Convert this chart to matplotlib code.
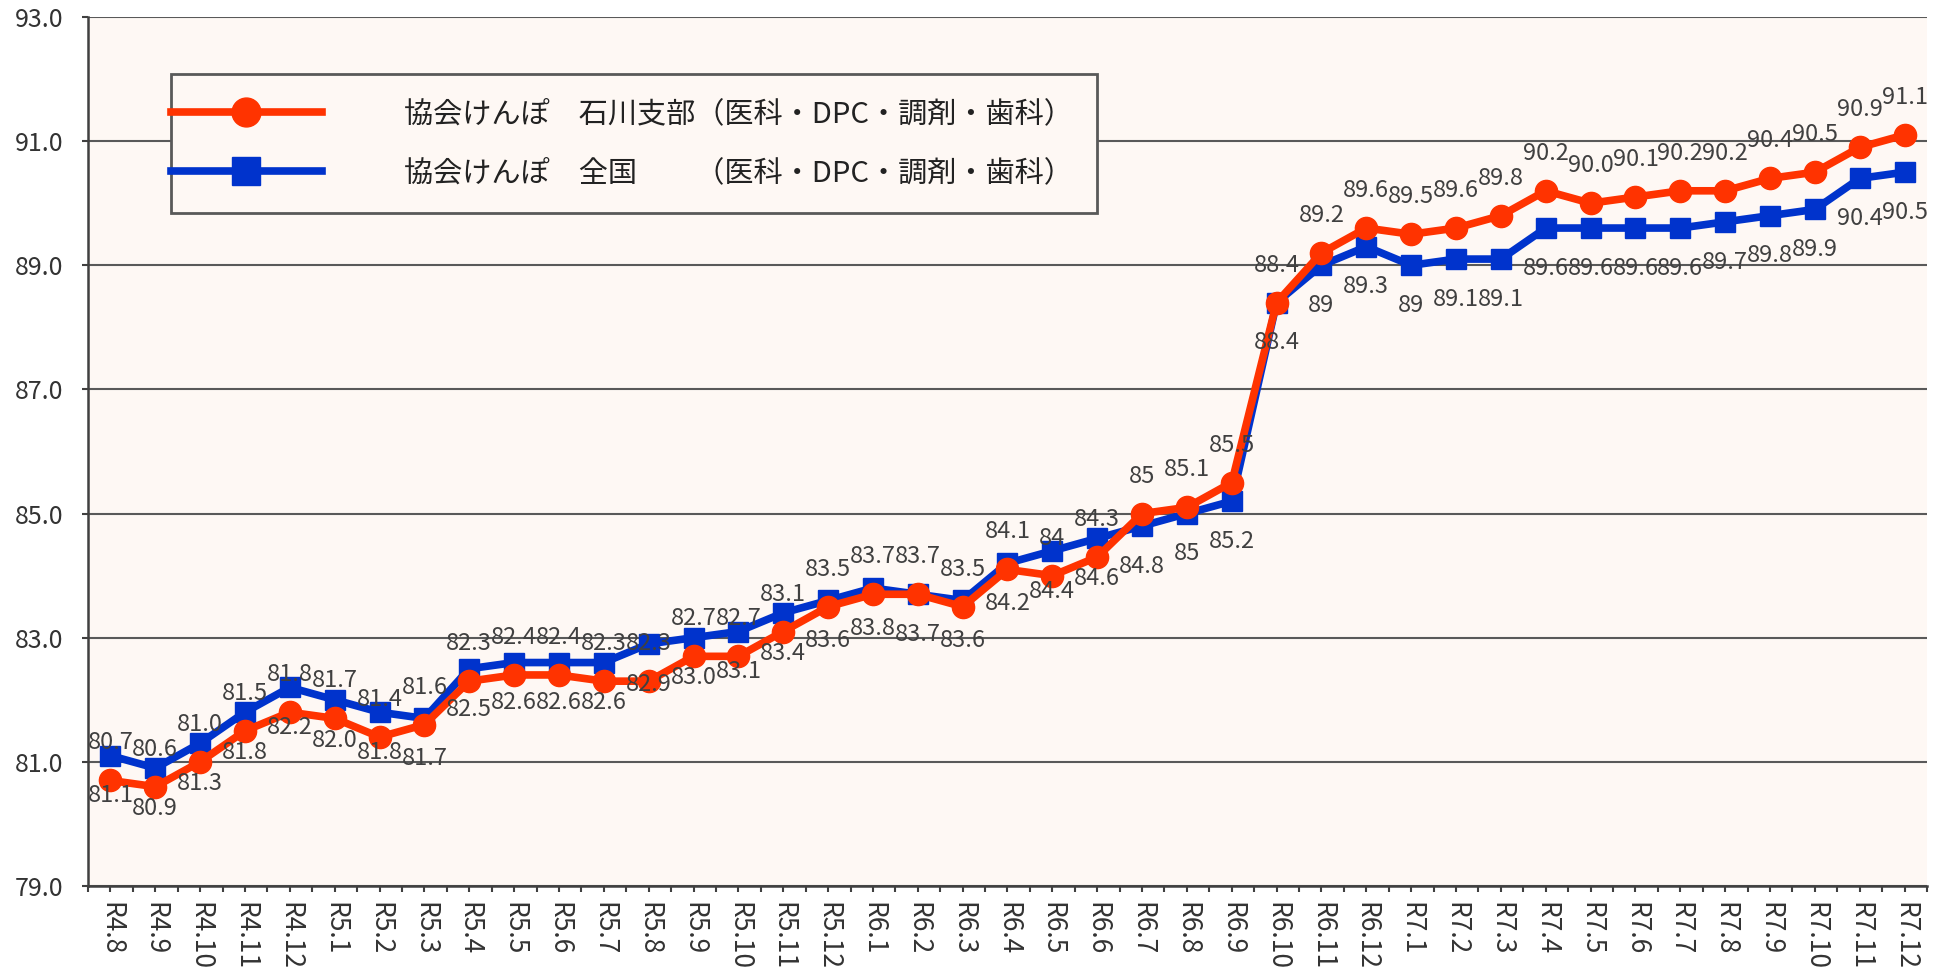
import numpy as np
from matplotlib import pyplot as plt
from matplotlib.legend_handler import HandlerLine2D

plt.rcParams['font.family'] = ['Noto Sans CJK JP', 'DejaVu Sans']

months = ['R4.8', 'R4.9', 'R4.10', 'R4.11', 'R4.12',
          'R5.1', 'R5.2', 'R5.3', 'R5.4', 'R5.5', 'R5.6', 'R5.7', 'R5.8', 'R5.9', 'R5.10', 'R5.11', 'R5.12',
          'R6.1', 'R6.2', 'R6.3', 'R6.4', 'R6.5', 'R6.6', 'R6.7', 'R6.8', 'R6.9', 'R6.10', 'R6.11', 'R6.12',
          'R7.1', 'R7.2', 'R7.3', 'R7.4', 'R7.5', 'R7.6', 'R7.7', 'R7.8', 'R7.9', 'R7.10', 'R7.11', 'R7.12']

# values as printed on the chart (some without decimals)
ishikawa_text = ['80.7', '80.6', '81.0', '81.5', '81.8',
                 '81.7', '81.4', '81.6', '82.3', '82.4', '82.4', '82.3', '82.3', '82.7', '82.7', '83.1', '83.5',
                 '83.7', '83.7', '83.5', '84.1', '84', '84.3', '85', '85.1', '85.5', '88.4', '89.2', '89.6',
                 '89.5', '89.6', '89.8', '90.2', '90.0', '90.1', '90.2', '90.2', '90.4', '90.5', '90.9', '91.1']
zenkoku_text = ['81.1', '80.9', '81.3', '81.8', '82.2',
                '82.0', '81.8', '81.7', '82.5', '82.6', '82.6', '82.6', '82.9', '83.0', '83.1', '83.4', '83.6',
                '83.8', '83.7', '83.6', '84.2', '84.4', '84.6', '84.8', '85', '85.2', '88.4', '89', '89.3',
                '89', '89.1', '89.1', '89.6', '89.6', '89.6', '89.6', '89.7', '89.8', '89.9', '90.4', '90.5']
ishikawa = [float(s) for s in ishikawa_text]
zenkoku = [float(s) for s in zenkoku_text]

label_ishikawa = '協会けんぽ　石川支部（医科・DPC・調剤・歯科）'
label_zenkoku = '協会けんぽ　全国　　（医科・DPC・調剤・歯科）'

red = '#FF3300'
blue = '#0033CC'
text_gray = '#404040'
grid_gray = '#595959'


class EdgeLineHandler(HandlerLine2D):
    # legend line starts at the frame edge, like the original
    def get_xdata(self, legend, xdescent, ydescent, width, height, fontsize):
        pad = legend.borderpad * fontsize
        x0 = -xdescent - pad
        x1 = -xdescent + width
        return [x0, x1], [0.5 * (x0 + x1)]


def main():
    fig = plt.figure(figsize=(19.48, 9.77), dpi=100)
    ax = fig.add_axes([88 / 1948, 91 / 977, 1839 / 1948, 869 / 977])
    ax.set_facecolor('#FEF8F4')

    x = np.arange(len(months))
    ax.plot(x, zenkoku, color=blue, lw=5.5, marker='s', ms=15, label=label_zenkoku, zorder=3)
    ax.plot(x, ishikawa, color=red, lw=5.5, marker='o', ms=16, label=label_ishikawa, zorder=4)

    for i in range(len(months)):
        ax.annotate(ishikawa_text[i], (x[i], ishikawa[i]), xytext=(0, 27), textcoords='offset points',
                    ha='center', va='center', fontsize=17, color=text_gray, zorder=6)
        ax.annotate(zenkoku_text[i], (x[i], zenkoku[i]), xytext=(0, -29), textcoords='offset points',
                    ha='center', va='center', fontsize=17, color=text_gray, zorder=6)

    ax.set_xlim(-0.5, len(months) - 0.5)
    ax.set_ylim(79, 93)
    ax.set_yticks(np.arange(79, 93.1, 2))
    ax.set_yticklabels([f'{v:.1f}' for v in np.arange(79, 93.1, 2)])
    ax.set_xticks(x)
    ax.set_xticklabels(months, rotation=270)
    ax.set_xticks(np.arange(-0.5, len(months), 1), minor=True)

    ax.tick_params(axis='y', length=4.5, width=1.5, color=text_gray, labelsize=18, labelcolor='#333333', pad=13)
    ax.tick_params(axis='x', which='both', length=4.5, width=1.5, color=text_gray, labelsize=19,
                   labelcolor='#333333', pad=7)

    ax.set_axisbelow(True)
    ax.yaxis.grid(True, color=grid_gray, lw=1.5)
    for side in ['top', 'right']:
        ax.spines[side].set_visible(False)
    for side in ['left', 'bottom']:
        ax.spines[side].set_color(text_gray)
        ax.spines[side].set_linewidth(1.8)

    handles, labels = ax.get_legend_handles_labels()
    leg = ax.legend(handles[::-1], labels[::-1], loc='upper left', bbox_to_anchor=(0.045, 0.934),
                    fontsize=21, frameon=True, fancybox=False, framealpha=1, facecolor='#FEF8F4',
                    edgecolor=grid_gray, borderpad=0.84, labelspacing=1.0, handlelength=4.35,
                    handletextpad=2.8, markerscale=1.3, borderaxespad=0,
                    handler_map={h: EdgeLineHandler(numpoints=1) for h in handles})
    leg.get_frame().set_linewidth(2)
    for t in leg.get_texts():
        t.set_color('#222222')

    fig.savefig('out.png', dpi=100)


if __name__ == '__main__':
    main()
